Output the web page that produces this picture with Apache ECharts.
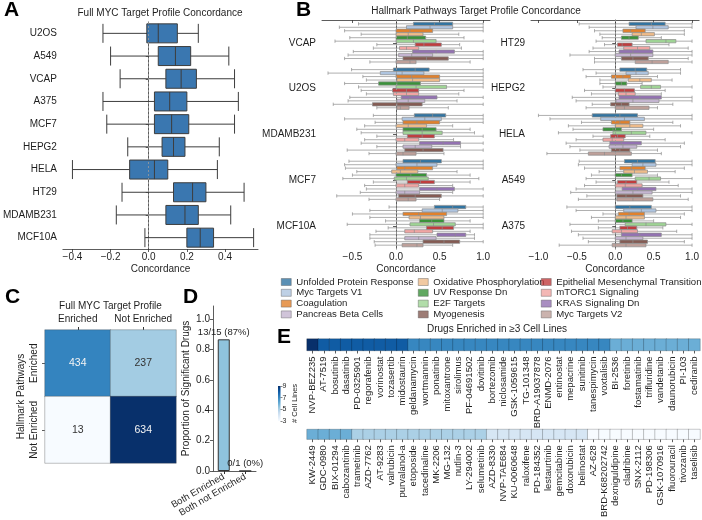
<!DOCTYPE html>
<html>
<head>
<meta charset="utf-8">
<script src="https://cdn.jsdelivr.net/npm/echarts@6/dist/echarts.min.js"></script>
<style>
  html, body { margin: 0; padding: 0; background: #fff; }
  #chart { width: 702px; height: 520px; }
</style>
</head>
<body>
<div id="chart"></div>
<script>
// ---------------- data ----------------
// A: full MYC target profile concordance, [min, Q1, median, Q3, max]
const cellLinesA = ['U2OS', 'A549', 'VCAP', 'A375', 'MCF7', 'HEPG2', 'HELA', 'HT29', 'MDAMB231', 'MCF10A'];
const boxesA = [
  [-0.24, -0.01, 0.05, 0.15, 0.26],
  [-0.20, 0.05, 0.14, 0.22, 0.42],
  [-0.15, 0.09, 0.17, 0.25, 0.45],
  [-0.24, 0.03, 0.11, 0.20, 0.47],
  [-0.22, 0.03, 0.12, 0.21, 0.45],
  [-0.11, 0.07, 0.13, 0.19, 0.37],
  [-0.40, -0.10, 0.03, 0.10, 0.36],
  [-0.14, 0.13, 0.23, 0.30, 0.50],
  [-0.17, 0.09, 0.19, 0.26, 0.43],
  [-0.02, 0.20, 0.27, 0.34, 0.55]
];

// B: hallmark pathways, box order inside each cell line group
const pathways = ['Unfolded Protein Response', 'Myc Targets V1', 'Coagulation', 'Oxidative Phosphorylation',
  'UV Response Dn', 'E2F Targets', 'Epithelial Mesenchymal Transition', 'mTORC1 Signaling',
  'KRAS Signaling Dn', 'Pancreas Beta Cells', 'Myogenesis', 'Myc Targets V2'];
const pathwayColors = ['#3274a1', '#aec4df', '#e1812c', '#eebb89', '#3a923a', '#9fd495',
  '#c03d3e', '#f0a5a3', '#9372b2', '#c4b5d0', '#845b53', '#bea09a'];
const legendOrder = ['Unfolded Protein Response', 'Myc Targets V1', 'Coagulation', 'Pancreas Beta Cells',
  'Oxidative Phosphorylation', 'UV Response Dn', 'E2F Targets', 'Myogenesis',
  'Epithelial Mesenchymal Transition', 'mTORC1 Signaling', 'KRAS Signaling Dn', 'Myc Targets V2'];
const cellLinesB1 = ['VCAP', 'U2OS', 'MDAMB231', 'MCF7', 'MCF10A'];
const cellLinesB2 = ['HT29', 'HEPG2', 'HELA', 'A549', 'A375'];

const vcap = [
  [-0.43, 0.20, 0.44, 0.65, 1.0], [-0.65, 0.12, 0.39, 0.65, 1.0], [-0.59, 0.00, 0.16, 0.42, 1.0],
  [-0.40, 0.00, 0.14, 0.31, 0.72], [-0.53, 0.00, 0.13, 0.34, 0.78], [-0.70, 0.00, 0.20, 0.46, 1.0],
  [-0.22, 0.22, 0.32, 0.52, 0.73], [-0.26, 0.04, 0.12, 0.26, 0.75], [-0.49, 0.19, 0.46, 0.67, 1.0],
  [-0.55, 0.03, 0.18, 0.42, 1.0], [-0.59, 0.08, 0.35, 0.60, 1.0], [-0.30, 0.00, 0.16, 0.23, 0.85]
];
const u2os = [
  [-0.51, -0.03, 0.22, 0.38, 1.0], [-0.78, -0.18, 0.07, 0.32, 1.0], [-0.38, 0.00, 0.18, 0.50, 1.0],
  [-0.34, 0.01, 0.19, 0.50, 1.0], [-0.59, -0.20, 0.01, 0.28, 1.0], [-0.43, 0.00, 0.23, 0.58, 1.0],
  [-0.40, -0.04, 0.12, 0.26, 0.78], [-0.34, -0.03, 0.12, 0.26, 0.72], [-0.53, 0.06, 0.16, 0.47, 1.0],
  [-0.55, 0.01, 0.14, 0.33, 0.70], [-0.72, -0.27, 0.01, 0.30, 1.0], [-0.22, 0.01, 0.05, 0.15, 0.60]
];
const mdamb231 = [
  [-0.26, 0.21, 0.42, 0.57, 1.0], [-0.59, 0.07, 0.33, 0.52, 1.0], [-0.24, 0.08, 0.24, 0.50, 1.0],
  [-0.36, 0.00, 0.14, 0.35, 0.65], [-0.45, 0.08, 0.30, 0.46, 0.85], [-0.40, 0.08, 0.30, 0.53, 0.90],
  [-0.22, 0.13, 0.30, 0.44, 1.0], [-0.36, 0.00, 0.10, 0.26, 0.66], [-0.40, 0.27, 0.54, 0.74, 1.0],
  [-0.22, 0.08, 0.22, 0.41, 0.74], [-0.56, 0.10, 0.31, 0.54, 1.0], [-0.31, 0.00, 0.08, 0.23, 0.55]
];
const mcf7 = [
  [-0.54, 0.08, 0.28, 0.52, 1.0], [-0.59, 0.00, 0.24, 0.47, 1.0], [-0.58, 0.01, 0.10, 0.42, 1.0],
  [-0.45, -0.05, 0.05, 0.25, 0.70], [-0.50, 0.00, 0.17, 0.35, 0.85], [-0.61, -0.02, 0.12, 0.37, 0.95],
  [-0.26, 0.13, 0.28, 0.44, 0.85], [-0.36, 0.00, 0.10, 0.26, 0.65], [-0.34, 0.27, 0.47, 0.67, 1.0],
  [-0.41, 0.00, 0.10, 0.27, 0.65], [-0.68, 0.03, 0.22, 0.52, 1.0], [-0.31, 0.00, 0.14, 0.23, 0.50]
];
const mcf10a = [
  [-0.08, 0.44, 0.65, 0.80, 1.0], [-0.30, 0.30, 0.53, 0.71, 1.0], [-0.50, 0.08, 0.26, 0.58, 1.0],
  [-0.30, 0.15, 0.28, 0.55, 1.0], [-0.12, 0.27, 0.41, 0.55, 0.85], [-0.56, 0.16, 0.43, 0.68, 1.0],
  [-0.09, 0.35, 0.53, 0.66, 1.0], [-0.23, 0.10, 0.21, 0.42, 0.85], [-0.30, 0.47, 0.68, 0.80, 0.90],
  [-0.30, 0.10, 0.26, 0.46, 0.90], [-0.25, 0.31, 0.55, 0.73, 1.0], [-0.24, 0.07, 0.24, 0.31, 0.65]
];
const ht29 = [
  [-0.47, 0.18, 0.47, 0.65, 1.0], [-0.34, 0.27, 0.49, 0.69, 1.0], [-0.27, 0.10, 0.20, 0.39, 0.90],
  [-0.20, 0.22, 0.34, 0.51, 0.90], [-0.17, 0.08, 0.18, 0.30, 0.60], [-0.25, 0.40, 0.66, 0.79, 1.0],
  [-0.14, 0.03, 0.09, 0.22, 0.70], [-0.29, 0.11, 0.29, 0.45, 0.95], [-0.34, 0.05, 0.23, 0.49, 1.0],
  [-0.59, 0.00, 0.20, 0.49, 1.0], [-0.27, 0.08, 0.23, 0.43, 0.95], [-0.27, 0.26, 0.48, 0.69, 1.0]
];
const hepg2 = [
  [-0.42, 0.06, 0.26, 0.41, 0.85], [-0.25, 0.14, 0.27, 0.43, 0.85], [-0.38, -0.05, 0.10, 0.20, 0.55],
  [-0.20, 0.17, 0.32, 0.47, 0.74], [-0.20, 0.00, 0.08, 0.15, 0.35], [-0.16, 0.33, 0.47, 0.59, 1.0],
  [-0.40, 0.00, 0.12, 0.25, 0.65], [-0.31, 0.04, 0.14, 0.26, 0.60], [-0.56, 0.05, 0.32, 0.60, 1.0],
  [-0.51, 0.01, 0.23, 0.57, 1.0], [-0.30, -0.06, 0.08, 0.18, 0.75], [-0.38, 0.00, 0.12, 0.44, 0.55]
];
const hela = [
  [-1.00, -0.30, 0.06, 0.29, 1.0], [-0.85, -0.19, 0.12, 0.38, 1.0], [-0.44, -0.05, 0.06, 0.19, 0.75],
  [-0.61, 0.00, 0.19, 0.36, 0.85], [-0.55, -0.16, -0.03, 0.08, 0.50], [-0.74, -0.03, 0.21, 0.40, 1.0],
  [-0.29, -0.06, 0.03, 0.13, 0.45], [-0.51, -0.16, -0.04, 0.11, 0.65], [-0.64, -0.07, 0.08, 0.34, 0.90],
  [-0.59, -0.08, 0.10, 0.28, 0.85], [-0.46, -0.05, 0.06, 0.19, 0.55], [-0.89, -0.35, -0.14, 0.21, 0.60]
];
const a549 = [
  [-0.47, 0.12, 0.29, 0.52, 1.0], [-0.48, 0.22, 0.36, 0.53, 1.0], [-0.40, 0.06, 0.21, 0.39, 0.90],
  [-0.21, 0.11, 0.25, 0.42, 0.78], [-0.31, 0.00, 0.08, 0.22, 0.55], [-0.38, 0.26, 0.44, 0.59, 1.0],
  [-0.25, 0.03, 0.14, 0.28, 0.70], [-0.40, 0.00, 0.13, 0.35, 0.82], [-0.51, 0.09, 0.29, 0.53, 1.0],
  [-0.58, 0.00, 0.23, 0.48, 1.0], [-0.37, 0.02, 0.14, 0.36, 0.85], [-0.48, 0.02, 0.23, 0.49, 0.95]
];
const a375 = [
  [-0.63, 0.00, 0.19, 0.47, 1.0], [-0.51, 0.11, 0.34, 0.53, 1.0], [-0.16, 0.04, 0.18, 0.38, 0.90],
  [-0.31, 0.00, 0.14, 0.38, 0.85], [-0.22, 0.00, 0.10, 0.22, 0.50], [-0.59, 0.13, 0.40, 0.66, 1.0],
  [-0.22, 0.06, 0.16, 0.28, 0.62], [-0.57, -0.04, 0.08, 0.29, 0.80], [-0.48, 0.08, 0.32, 0.60, 1.0],
  [-0.42, 0.00, 0.14, 0.36, 1.0], [-0.35, 0.06, 0.23, 0.42, 0.90], [-0.73, -0.04, 0.14, 0.40, 1.0]
];
const boxesB1 = [vcap, u2os, mdamb231, mcf7, mcf10a];
const boxesB2 = [ht29, hepg2, hela, a549, a375];

// C: enrichment overlap counts
const enrichLabels = ['Enriched', 'Not Enriched'];
const overlapCounts = [[434, 237], [13, 634]]; // rows: Hallmark, cols: Full MYC

// D: significant drugs
const groupsD = ['Both Enriched', 'Both not Enriched'];
const sigDrugs = [13, 0];
const totalDrugs = [15, 1];

// E: drugs enriched in >=3 cell lines
const drugsTop = ['NVP-BEZ235', 'AT-7519', 'bosutinib', 'dasatinib', 'PD-0325901', 'regorafenib', 'vorinostat',
  'tozasertib', 'midostaurin', 'geldanamycin', 'wortmannin', 'ponatinib', 'mitoxantrone', 'sirolimus',
  'PF-04691502', 'dovitinib', 'bortezomib', 'niclosamide', 'GSK-1059615', 'TG-101348', 'BRD-A19037878',
  'ENMD-2076', 'entinostat', 'mepacrine', 'sunitinib', 'tanespimycin', 'voxtalisib', 'BI-2536', 'foretinib',
  'fostamatinib', 'trifluridine', 'vandetanib', 'daunorubicin', 'PI-103', 'cediranib'];
const countsTop = [9, 8, 8, 8, 8, 8, 8, 8, 8, 7, 7, 7, 7, 7, 7, 7, 7, 7, 7, 7, 7, 7, 7, 7, 7, 7, 7,
  6, 6, 6, 6, 6, 6, 6, 6];
const drugsBottom = ['KW-2449', 'GDC-0980', 'BIX-01294', 'cabozantinib', 'trametinib', 'AZD-7762', 'AT-9283',
  'valrubicin', 'purvalanol-a', 'etoposide', 'tacedinaline', 'MK-2206', 'MG-132', 'nutlin-3', 'LY-294002',
  'selumetinib', 'AZD-8330', 'NVP-TAE684', 'KU-0060648', 'raloxifene', 'PD-184352', 'lestaurtinib',
  'gemcitabine', 'doxorubicin', 'belinostat', 'AZ-628', 'BRD-K68202742', 'dexniguldipine', 'cladribine',
  'SNX-2112', 'PD-198306', 'GSK-1070916', 'fluorouracil', 'tivozanib', 'taselisib'];
const countsBottom = [6, 6, 6, 6, 5, 5, 5, 5, 5, 5, 5, 5, 5, 5, 5, 5, 4, 4, 4, 4, 4, 4, 4, 4, 4,
  3, 3, 3, 3, 3, 3, 3, 3, 3, 3];
const cellLineTicks = [3, 5, 7, 9];

// ---------------- chart ----------------
const FONT = '"Liberation Sans", Arial, sans-serif';
const INK = '#1e1e1e';
const LINE = '#333';
const blues = ['#f7fbff', '#deebf7', '#c6dbef', '#9ecae1', '#6baed6', '#4292c6', '#2171b5', '#08519c', '#08306b'];
const fmt = v => (v < -1e-9 ? '\u2212' : '') + Math.abs(v).toFixed(1);

function valAxis(gridIndex, min, max, ticks, name) {
  return {
    type: 'value', gridIndex, min, max,
    splitLine: { show: false },
    axisLine: { show: true, lineStyle: { color: LINE, width: 0.8 } },
    axisTick: { show: true, length: 3, lineStyle: { color: LINE, width: 0.8 }, customValues: ticks },
    axisLabel: { color: INK, fontSize: 10, fontFamily: FONT, margin: 3, customValues: ticks, formatter: fmt },
    name, nameLocation: 'middle', nameGap: 15,
    nameTextStyle: { color: INK, fontSize: 10, fontFamily: FONT }
  };
}
function catAxis(gridIndex, data, opts) {
  return Object.assign({
    type: 'category', gridIndex, data, inverse: true,
    axisLine: { show: true, lineStyle: { color: LINE, width: 0.8 } },
    axisTick: { show: true, length: 3, alignWithLabel: true, lineStyle: { color: LINE, width: 0.8 } },
    axisLabel: { interval: 0, color: INK, fontSize: 10, fontFamily: FONT, margin: 6 }
  }, opts || {});
}

// within-group row positions for panel B (hidden value axis 0..5)
const rowStep = 0.0757;
function groupedBoxes(boxes) {
  const out = [];
  boxes.forEach((line, g) => {
    line.forEach((b, i) => {
      out.push({ value: [g + 0.5 + (i - 5.5) * rowStep].concat(b), itemStyle: { color: pathwayColors[i] } });
    });
  });
  return out;
}
const zeroLine = {
  silent: true, symbol: 'none', label: { show: false },
  lineStyle: { type: [2, 2], color: '#9a9a9a', width: 0.8 },
  data: [{ xAxis: 0 }]
};

const series = [];
series.push({
  type: 'boxplot', xAxisIndex: 0, yAxisIndex: 0, boxWidth: [19, 19],
  itemStyle: { color: '#3a77b0', borderColor: '#3d3d3d', borderWidth: 1 },
  data: boxesA, markLine: zeroLine
});
series.push({
  type: 'boxplot', layout: 'vertical', xAxisIndex: 1, yAxisIndex: 2, boxWidth: [3.3, 3.3],
  itemStyle: { borderColor: '#8c8c8c', borderWidth: 0.7 },
  data: groupedBoxes(boxesB1), markLine: zeroLine
});
series.push({
  type: 'boxplot', layout: 'vertical', xAxisIndex: 2, yAxisIndex: 4, boxWidth: [3.3, 3.3],
  itemStyle: { borderColor: '#8c8c8c', borderWidth: 0.7 },
  data: groupedBoxes(boxesB2), markLine: zeroLine
});
pathways.forEach((p, i) => {
  series.push({ type: 'scatter', name: p, xAxisIndex: 1, yAxisIndex: 2, data: [], itemStyle: { color: pathwayColors[i] } });
});
const idxC = series.length;
const heatC = [];
overlapCounts.forEach((row, r) => row.forEach((v, c) => {
  heatC.push({ value: [c, r, v], label: { color: v > 350 ? '#f4f4f4' : '#333' } });
}));
series.push({
  type: 'heatmap', xAxisIndex: 3, yAxisIndex: 5, data: heatC,
  label: { show: true, fontSize: 10.5, fontFamily: FONT },
  itemStyle: { borderColor: 'rgba(60,60,60,0.55)', borderWidth: 0.6 },
  emphasis: { disabled: true }
});
series.push({
  type: 'bar', xAxisIndex: 4, yAxisIndex: 6, barWidth: 12,
  data: sigDrugs.map((s, i) => s / totalDrugs[i]),
  itemStyle: { color: '#8fc3dd', borderColor: '#333', borderWidth: 1 },
  label: {
    show: true, position: 'top', distance: 2, color: INK, fontSize: 9.5, fontFamily: FONT,
    formatter: p => sigDrugs[p.dataIndex] + '/' + totalDrugs[p.dataIndex] + ' (' +
      Math.round(100 * sigDrugs[p.dataIndex] / totalDrugs[p.dataIndex]) + '%)'
  }
});
const idxE = series.length;
[countsTop, countsBottom].forEach((counts, k) => {
  series.push({
    type: 'heatmap', xAxisIndex: 5 + k, yAxisIndex: 7 + k,
    data: counts.map((v, i) => [i, 0, v]),
    itemStyle: { borderColor: 'rgba(0,0,0,0.35)', borderWidth: 0.6 },
    emphasis: { disabled: true }
  });
});

const drugAxis = (gridIndex, data) => ({
  type: 'category', gridIndex, data,
  axisLine: { show: false },
  axisTick: { show: true, length: 3, alignWithLabel: true, lineStyle: { color: LINE, width: 0.8 } },
  axisLabel: { interval: 0, rotate: 90, margin: 6, color: INK, fontSize: 9.5, fontFamily: FONT }
});

const legendX = [281, 418, 541];
const option = {
  animation: false,
  backgroundColor: '#fff',
  grid: [
    { left: 61, top: 22, width: 197, height: 227 },
    { left: 322, top: 20, width: 168, height: 229 },
    { left: 531, top: 20, width: 169, height: 229 },
    { left: 45, top: 330, width: 131, height: 133 },
    { left: 213, top: 306, width: 43, height: 165 },
    { left: 307, top: 339, width: 393, height: 11.5 },
    { left: 307, top: 429.5, width: 393, height: 11.5 },
    { left: 278, top: 386, width: 2.5, height: 35 }
  ],
  xAxis: [
    valAxis(0, -0.45, 0.573, [-0.4, -0.2, 0, 0.2, 0.4], 'Concordance'),
    valAxis(1, -0.849, 1.078, [-0.5, 0, 0.5, 1.0], 'Concordance'),
    valAxis(2, -1.097, 1.092, [-1.0, -0.5, 0, 0.5, 1.0], 'Concordance'),
    {
      type: 'category', gridIndex: 3, data: enrichLabels, position: 'top',
      axisLine: { show: false },
      axisTick: { show: true, length: 3, alignWithLabel: true, lineStyle: { color: LINE } },
      axisLabel: { interval: 0, color: INK, fontSize: 10, fontFamily: FONT, margin: 6 },
      name: 'Full MYC Target Profile', nameLocation: 'middle', nameGap: 19,
      nameTextStyle: { color: INK, fontSize: 10, fontFamily: FONT }
    },
    {
      type: 'category', gridIndex: 4, data: groupsD,
      axisLine: { show: true, lineStyle: { color: LINE, width: 0.8 } },
      axisTick: { show: true, length: 3, alignWithLabel: true, lineStyle: { color: LINE } },
      axisLabel: { interval: 0, rotate: 30, margin: 5, color: INK, fontSize: 9.5, fontFamily: FONT }
    },
    drugAxis(5, drugsTop),
    drugAxis(6, drugsBottom),
    { type: 'category', gridIndex: 7, data: [''], show: false }
  ],
  yAxis: [
    catAxis(0, cellLinesA),
    catAxis(1, cellLinesB1),
    { type: 'value', gridIndex: 1, min: 0, max: 5, inverse: true, show: false },
    catAxis(2, cellLinesB2),
    { type: 'value', gridIndex: 2, min: 0, max: 5, inverse: true, show: false },
    catAxis(3, enrichLabels, {
      axisLine: { show: false },
      axisLabel: { interval: 0, color: INK, fontSize: 10, fontFamily: FONT, margin: 6, rotate: 90 },
      name: 'Hallmark Pathways', nameLocation: 'middle', nameGap: 19, nameRotate: 90,
      nameTextStyle: { color: INK, fontSize: 10, fontFamily: FONT }
    }),
    Object.assign(valAxis(4, 0, 1.086, [0, 0.2, 0.4, 0.6, 0.8, 1.0], 'Proportion of Significant Drugs'), { nameGap: 22 }),
    { type: 'category', gridIndex: 5, data: [''], show: false },
    { type: 'category', gridIndex: 6, data: [''], show: false },
    {
      type: 'value', gridIndex: 7, min: cellLineTicks[0], max: cellLineTicks[cellLineTicks.length - 1], interval: 2, position: 'right',
      splitLine: { show: false }, axisLine: { show: false },
      axisTick: { show: true, length: 2, lineStyle: { color: LINE, width: 0.6 } },
      axisLabel: { color: INK, fontSize: 7, fontFamily: FONT, margin: 2 },
      name: '# Cell Lines', nameLocation: 'middle', nameGap: 10, nameRotate: 90,
      nameTextStyle: { color: INK, fontSize: 7.5, fontFamily: FONT }
    }
  ],
  visualMap: [
    { show: false, type: 'continuous', seriesIndex: idxC, min: 13, max: 634, inRange: { color: blues } },
    { show: false, type: 'continuous', seriesIndex: [idxE, idxE + 1], min: 3, max: 9, inRange: { color: blues } }
  ],
  legend: [0, 1, 2].map(c => ({
    orient: 'vertical', left: legendX[c], top: 277, padding: 0,
    itemWidth: 10, itemHeight: 7, itemGap: 0.8, icon: 'rect', selectedMode: false,
    data: legendOrder.slice(c * 4, c * 4 + 4),
    itemStyle: { borderColor: '#555', borderWidth: 0.5 },
    textStyle: { color: INK, fontSize: 9.6, fontFamily: FONT, lineHeight: 7 }
  })),
  graphic: [
    { type: 'text', x: 4, y: 10, style: { text: 'A', font: 'bold 21px ' + FONT, fill: '#000', textVerticalAlign: 'middle', verticalAlign: 'middle' } },
    { type: 'text', x: 296, y: 10, style: { text: 'B', font: 'bold 21px ' + FONT, fill: '#000', textVerticalAlign: 'middle', verticalAlign: 'middle' } },
    { type: 'text', x: 5, y: 297, style: { text: 'C', font: 'bold 21px ' + FONT, fill: '#000', textVerticalAlign: 'middle', verticalAlign: 'middle' } },
    { type: 'text', x: 183, y: 297, style: { text: 'D', font: 'bold 21px ' + FONT, fill: '#000', textVerticalAlign: 'middle', verticalAlign: 'middle' } },
    { type: 'text', x: 277, y: 337, style: { text: 'E', font: 'bold 21px ' + FONT, fill: '#000', textVerticalAlign: 'middle', verticalAlign: 'middle' } },
    { type: 'text', x: 160, y: 13, style: { text: 'Full MYC Target Profile Concordance', font: '10px ' + FONT, fill: INK, textAlign: 'center', align: 'center', textVerticalAlign: 'middle', verticalAlign: 'middle' } },
    { type: 'text', x: 476, y: 11, style: { text: 'Hallmark Pathways Target Profile Concordance', font: '10px ' + FONT, fill: INK, textAlign: 'center', align: 'center', textVerticalAlign: 'middle', verticalAlign: 'middle' } },
    { type: 'text', x: 497, y: 329, style: { text: 'Drugs Enriched in \u22653 Cell Lines', font: '10px ' + FONT, fill: INK, textAlign: 'center', align: 'center', textVerticalAlign: 'middle', verticalAlign: 'middle' } },
    {
      type: 'rect', shape: { x: 278, y: 386, width: 2.5, height: 35 }, silent: true,
      style: { fill: new echarts.graphic.LinearGradient(0, 0, 0, 1, blues.slice().reverse().map((c, i) => ({ offset: i / 8, color: c }))) }
    }
  ],
  series
};

const chart = echarts.init(document.getElementById('chart'));
chart.setOption(option);
</script>
</body>
</html>
